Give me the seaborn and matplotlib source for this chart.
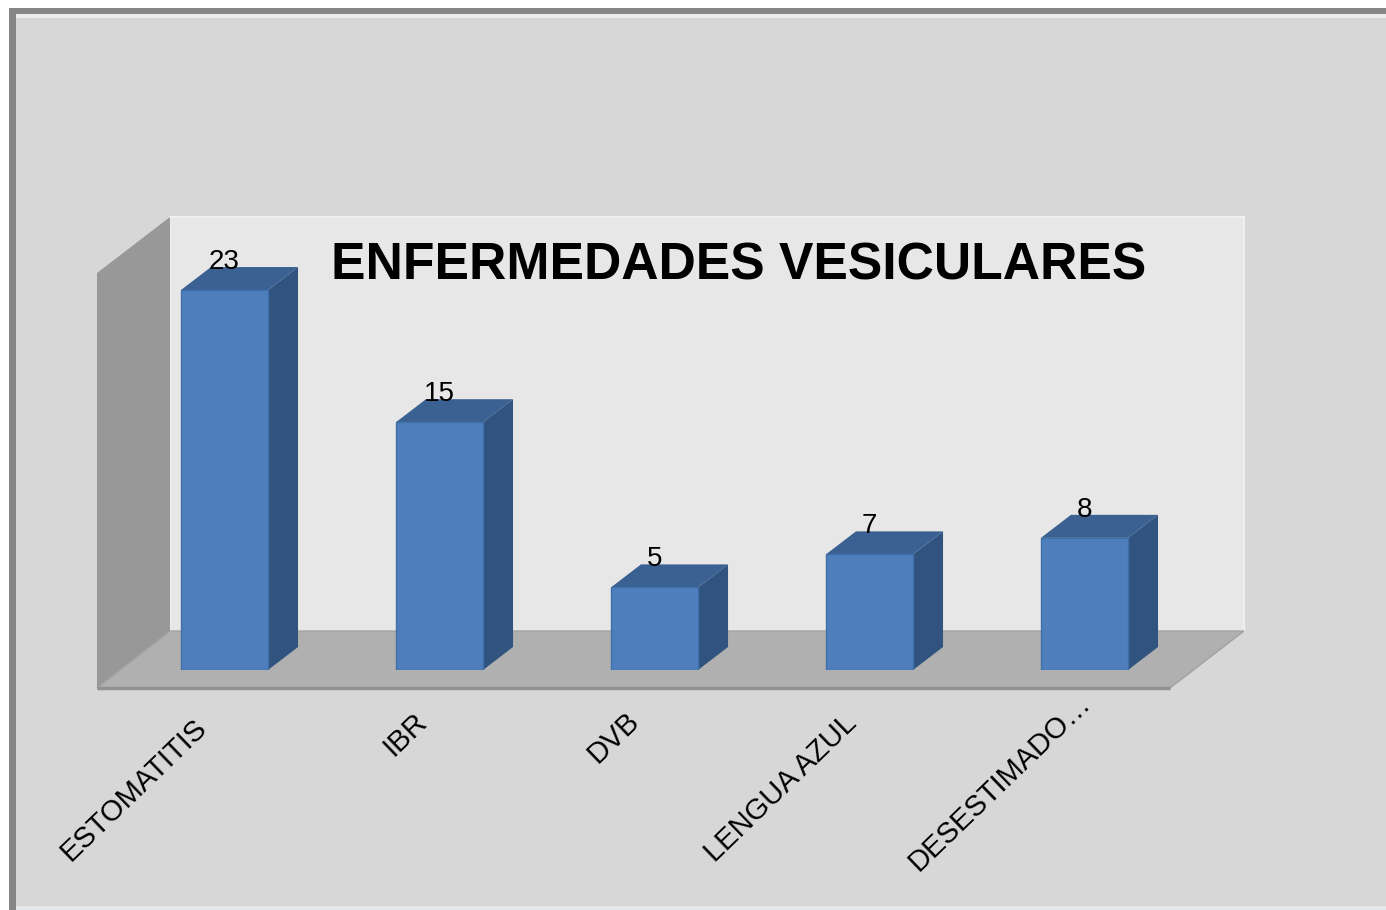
import matplotlib
matplotlib.use('Agg')
import matplotlib.pyplot as plt
import matplotlib.transforms as mtrans
from matplotlib.patches import Polygon, Rectangle
import pandas as pd
import seaborn as sns

# Data
categories = ['ESTOMATITIS', 'IBR', 'DVB', 'LENGUA AZUL', 'DESESTIMADO…']
values = [23, 15, 5, 7, 8]
title = 'ENFERMEDADES VESICULARES'

W, H = 1386, 910
DEPTH_X, DEPTH_Y = 30, 23  # fake 3d depth of the bars, in pixels

FRONT = '#4e7ebc'
TOP = '#3a6192'
SIDE = '#30547f'
EDGE = '#3f6fa8'

# small per label shifts (pixels), the labels are not evenly placed in the original
label_nudge = [(-22, 6), (-17, 0), (-19, 0), (-17, 2), (2, -18)]

sns.set_theme(style='white')
plt.rcParams['font.family'] = ['Liberation Sans', 'DejaVu Sans']

fig = plt.figure(figsize=(W / 100, H / 100), dpi=100, facecolor='white')

# Background frame and the 3d walls, drawn in pixel coordinates
bg = fig.add_axes([0, 0, 1, 1])
bg.set_xlim(0, W)
bg.set_ylim(H, 0)
bg.axis('off')
bg.add_patch(Rectangle((9, 8), W, H, fc='#868686', ec='none'))
bg.add_patch(Rectangle((16, 14), W, H, fc='#ececec', ec='none'))
bg.add_patch(Rectangle((16, 18), W, H, fc='#d7d7d7', ec='none'))
bg.add_patch(Rectangle((16, 906), W, 4, fc='#e2e8ec', ec='none'))
bg.add_patch(Rectangle((170, 217), 1074, 414, fc='#e7e7e7', ec='#efefef', lw=1.5))
bg.add_patch(Polygon([(97, 273), (170, 217), (170, 631), (97, 688)], fc='#989898', ec='none'))
bg.add_patch(Polygon([(97, 688), (170, 631), (1244, 631), (1170, 688)], fc='#b0b0b0', ec='#a2a2a2', lw=1))
bg.plot([97, 1170], [688, 688], color='#929292', lw=2.5, solid_capstyle='butt')

# Bars: the axes are placed so that the baseline falls on the floor of the chart
ax = fig.add_axes([117 / W, 1 - 670 / H, 1075 / W, 413 / H])
ax.patch.set_alpha(0)
df = pd.DataFrame({'categoria': categories, 'valor': values})
sns.barplot(data=df, x='categoria', y='valor', color=FRONT, saturation=1,
            width=0.405, edgecolor=EDGE, linewidth=1, ax=ax, zorder=3)
ax.set_xlim(-0.5, 4.5)
ax.set_ylim(0, 25)
sns.despine(ax=ax, left=True, bottom=True, top=True, right=True)
ax.set_xlabel('')
ax.set_ylabel('')
ax.set_yticks([])

# Side and top faces from each bar's own geometry
dx = DEPTH_X / (1075 / 5)
dy = DEPTH_Y / (413 / 25)
for bar in ax.patches[:len(values)]:
    x0, x1 = bar.get_x(), bar.get_x() + bar.get_width()
    h = bar.get_height()
    ax.add_patch(Polygon([(x1, 0), (x1 + dx, dy), (x1 + dx, h + dy), (x1, h)],
                         fc=SIDE, ec='none', zorder=2, clip_on=False))
    ax.add_patch(Polygon([(x0, h), (x0 + dx, h + dy), (x1 + dx, h + dy), (x1, h)],
                         fc=TOP, ec='none', zorder=2, clip_on=False))
    ax.annotate(f'{h:.0f}', (bar.get_x() + bar.get_width() / 2, h), xytext=(0, 20.2),
                textcoords='offset points', ha='center', va='center', fontsize=20,
                color='black', zorder=5, annotation_clip=False)

# Slanted category labels
ax.set_xticks(range(len(categories)))
ax.set_xticklabels(categories, rotation=44, ha='right', va='center',
                   rotation_mode='anchor', fontsize=21, color='black')
ax.tick_params(axis='x', length=0, pad=34)
for label, (nx, ny) in zip(ax.get_xticklabels(), label_nudge):
    shift = mtrans.ScaledTranslation(nx / 100, -ny / 100, fig.dpi_scale_trans)
    label.set_transform(label.get_transform() + shift)

fig.text(739 / W, 1 - 266 / H, title, ha='center', va='center', fontsize=37.2,
         fontweight='bold', color='black')

fig.savefig('out.png', dpi=100, facecolor=fig.get_facecolor())
